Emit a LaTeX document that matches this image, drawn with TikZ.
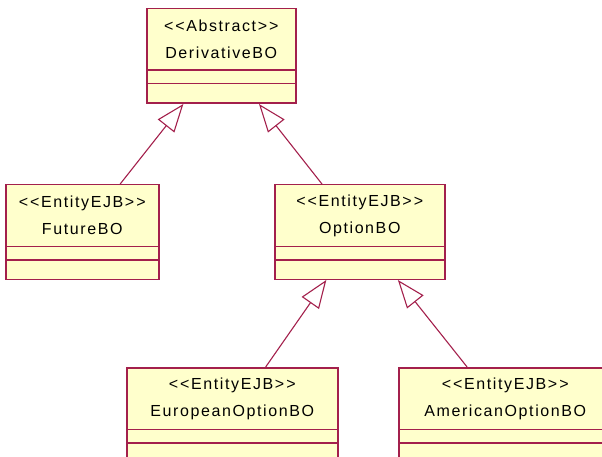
\documentclass[tikz,border=0pt]{standalone}
\usepackage{fontspec}
\newfontfamily\umlfont[LetterSpace=10]{Liberation Sans}
\usepackage{tikz}
\usetikzlibrary{arrows.meta,positioning,shapes.multipart}
\definecolor{roseline}{HTML}{A3204C}
\definecolor{rosefill}{HTML}{FFFFCC}
\newcommand{\ClassHead}[3]{\parbox[c][60pt][c]{#1}{\centering
  \umlfont\fontsize{16}{27}\selectfont #2\\#3}}
\newcommand{\ClassParts}{\nodepart{two}\rule{0pt}{12pt}\nodepart{three}\rule{0pt}{18pt}}
\newcommand{\Stereo}[1]{<\kern2pt<#1>\kern2pt>}

\begin{document}
\begin{tikzpicture}[
  x=1pt, y=-1pt,
  every node/.style={font=\umlfont},
  umlclass/.style={
    rectangle split, rectangle split parts=3,
    draw=roseline, fill=rosefill, line width=1.5pt,
    inner xsep=0pt, inner ysep=0pt,
    anchor=north west, text=black
  },
  inherit/.style={-{Triangle[open, length=28pt, width=21pt]},
    draw=roseline, line width=1.1pt}
]

% ---------- Frame ----------
\useasboundingbox (0,0) rectangle (602,457);
\clip (0,0) rectangle (602,457);

% ---------- Classes ----------
\node[umlclass] (deriv) at (146,8)
  {\ClassHead{149pt}{\Stereo{Abstract}}{DerivativeBO}\ClassParts};

\node[umlclass] (future) at (5,184)
  {\ClassHead{153pt}{\Stereo{EntityEJB}}{FutureBO}\ClassParts};

\node[umlclass] (option) at (274,184)
  {\ClassHead{170pt}{\Stereo{EntityEJB}}{OptionBO}\ClassParts};

\node[umlclass] (euro) at (126,367)
  {\ClassHead{211pt}{\Stereo{EntityEJB}}{EuropeanOptionBO}\ClassParts};

\node[umlclass] (amer) at (398,367)
  {\ClassHead{213pt}{\Stereo{EntityEJB}}{AmericanOptionBO}\ClassParts};

% ---------- Generalizations ----------
\draw[inherit] (future) -- (deriv);
\draw[inherit] (option) -- (deriv);
\draw[inherit] (euro) -- (option);
\draw[inherit] (amer) -- (option);

\end{tikzpicture}
\end{document}
